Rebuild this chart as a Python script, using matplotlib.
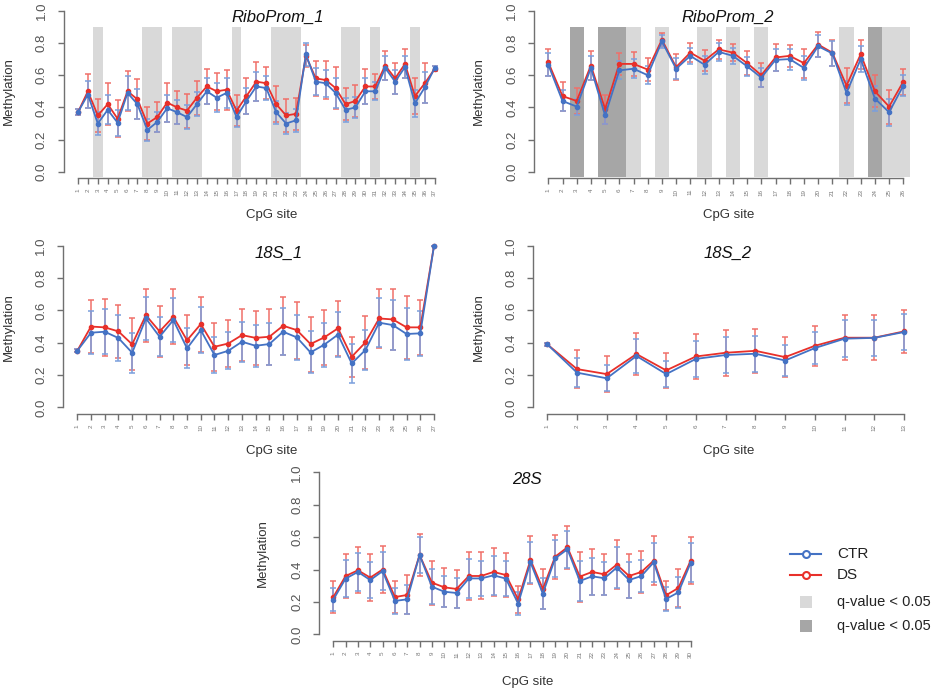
import matplotlib.pyplot as plt
from matplotlib.lines import Line2D

plt.rcParams['font.family'] = ['Liberation Sans', 'DejaVu Sans']

W, H = 941, 690

# ---- data: mean methylation and SD per CpG site ----
ribo1_ctr = [0.37, 0.48, 0.30, 0.385, 0.305, 0.49, 0.42, 0.26, 0.31, 0.395, 0.37, 0.34, 0.42,
             0.50, 0.46, 0.49, 0.34, 0.44, 0.53, 0.52, 0.37, 0.30, 0.32, 0.73, 0.56, 0.55,
             0.49, 0.385, 0.40, 0.50, 0.50, 0.645, 0.56, 0.65, 0.425, 0.525, 0.645]
ribo1_ctr_sd = [0.02, 0.085, 0.07, 0.09, 0.08, 0.105, 0.095, 0.07, 0.06, 0.085, 0.075, 0.075,
                0.075, 0.08, 0.09, 0.095, 0.06, 0.08, 0.09, 0.075, 0.07, 0.065, 0.07, 0.07,
                0.085, 0.085, 0.095, 0.075, 0.065, 0.08, 0.055, 0.075, 0.075, 0.07, 0.085,
                0.095, 0.015]
ribo1_ds = [0.37, 0.50, 0.35, 0.42, 0.33, 0.50, 0.45, 0.30, 0.34, 0.43, 0.40, 0.38, 0.46,
            0.53, 0.50, 0.51, 0.38, 0.47, 0.56, 0.55, 0.42, 0.35, 0.36, 0.72, 0.58, 0.57,
            0.52, 0.42, 0.44, 0.53, 0.53, 0.66, 0.58, 0.67, 0.47, 0.55, 0.64]
ribo1_ds_sd = [0.02, 0.105, 0.105, 0.13, 0.115, 0.125, 0.125, 0.10, 0.095, 0.12, 0.10, 0.105,
               0.105, 0.11, 0.115, 0.125, 0.095, 0.11, 0.12, 0.10, 0.11, 0.10, 0.10, 0.07,
               0.11, 0.115, 0.13, 0.10, 0.10, 0.11, 0.08, 0.09, 0.095, 0.09, 0.11, 0.125, 0.015]
ribo1_light = [3, 8, 9, 11, 12, 13, 17, 21, 22, 23, 28, 29, 31, 35]
ribo1_dark = []

ribo2_ctr = [0.665, 0.44, 0.405, 0.645, 0.35, 0.63, 0.64, 0.60, 0.81, 0.64, 0.72, 0.665, 0.745,
             0.72, 0.655, 0.585, 0.695, 0.70, 0.645, 0.78, 0.735, 0.49, 0.70, 0.455, 0.37, 0.535]
ribo2_ctr_sd = [0.07, 0.065, 0.05, 0.075, 0.05, 0.055, 0.06, 0.055, 0.04, 0.065, 0.05, 0.055,
                0.055, 0.05, 0.06, 0.06, 0.07, 0.065, 0.075, 0.07, 0.075, 0.075, 0.08, 0.08,
                0.085, 0.065]
ribo2_ds = [0.68, 0.47, 0.44, 0.66, 0.39, 0.67, 0.67, 0.635, 0.82, 0.65, 0.74, 0.69, 0.76,
            0.74, 0.675, 0.60, 0.71, 0.72, 0.675, 0.79, 0.74, 0.535, 0.73, 0.50, 0.405, 0.56]
ribo2_ds_sd = [0.085, 0.09, 0.08, 0.09, 0.09, 0.07, 0.075, 0.07, 0.04, 0.08, 0.06, 0.065, 0.06,
               0.055, 0.075, 0.075, 0.085, 0.07, 0.09, 0.075, 0.08, 0.11, 0.09, 0.10, 0.105, 0.08]
ribo2_light = [7, 9, 12, 14, 16, 22, 25, 26]
ribo2_dark = [3, 5, 6, 24]

s18_1_ctr = [0.35, 0.462, 0.468, 0.429, 0.338, 0.55, 0.437, 0.54, 0.365, 0.478, 0.324, 0.35,
             0.406, 0.381, 0.392, 0.468, 0.433, 0.34, 0.388, 0.45, 0.272, 0.355, 0.524, 0.509,
             0.454, 0.458, 1.0]
s18_1_ctr_sd = [0.01, 0.134, 0.14, 0.14, 0.124, 0.135, 0.12, 0.138, 0.124, 0.14, 0.113, 0.114,
                0.124, 0.128, 0.132, 0.144, 0.138, 0.13, 0.136, 0.14, 0.12, 0.123, 0.15, 0.155,
                0.158, 0.14, 0.0]
s18_1_ds = [0.35, 0.50, 0.495, 0.47, 0.39, 0.57, 0.47, 0.56, 0.415, 0.515, 0.375, 0.395, 0.447,
            0.43, 0.437, 0.505, 0.478, 0.392, 0.433, 0.489, 0.313, 0.402, 0.55, 0.544, 0.495,
            0.495, 1.0]
s18_1_ds_sd = [0.01, 0.165, 0.175, 0.165, 0.16, 0.165, 0.16, 0.17, 0.155, 0.17, 0.15, 0.148,
               0.16, 0.165, 0.172, 0.18, 0.176, 0.17, 0.172, 0.172, 0.124, 0.162, 0.185, 0.188,
               0.193, 0.172, 0.0]

s18_2_ctr = [0.39, 0.215, 0.18, 0.318, 0.206, 0.30, 0.324, 0.332, 0.29, 0.367, 0.425, 0.43, 0.466]
s18_2_ctr_sd = [0.01, 0.088, 0.08, 0.105, 0.08, 0.11, 0.112, 0.11, 0.095, 0.10, 0.115, 0.11, 0.11]
s18_2_ds = [0.39, 0.237, 0.206, 0.33, 0.229, 0.315, 0.338, 0.35, 0.311, 0.381, 0.431, 0.431, 0.47]
s18_2_ds_sd = [0.01, 0.118, 0.11, 0.13, 0.11, 0.14, 0.142, 0.135, 0.125, 0.125, 0.14, 0.14, 0.135]

s28_ctr = [0.214, 0.344, 0.385, 0.335, 0.39, 0.206, 0.216, 0.49, 0.294, 0.263, 0.255, 0.345,
           0.345, 0.364, 0.344, 0.19, 0.444, 0.251, 0.469, 0.525, 0.329, 0.358, 0.346, 0.412,
           0.335, 0.36, 0.444, 0.218, 0.259, 0.442]
s28_ctr_sd = [0.07, 0.115, 0.115, 0.112, 0.118, 0.078, 0.088, 0.112, 0.107, 0.097, 0.09, 0.12,
              0.11, 0.122, 0.107, 0.072, 0.126, 0.095, 0.115, 0.113, 0.123, 0.113, 0.102, 0.126,
              0.112, 0.10, 0.122, 0.072, 0.095, 0.12]
s28_ds = [0.23, 0.36, 0.395, 0.35, 0.40, 0.23, 0.243, 0.49, 0.319, 0.29, 0.28, 0.36, 0.36,
          0.385, 0.366, 0.216, 0.459, 0.28, 0.479, 0.537, 0.356, 0.385, 0.37, 0.43, 0.36, 0.385,
          0.455, 0.241, 0.286, 0.455]
s28_ds_sd = [0.10, 0.138, 0.142, 0.143, 0.145, 0.10, 0.12, 0.13, 0.136, 0.12, 0.115, 0.15,
             0.145, 0.15, 0.137, 0.085, 0.148, 0.125, 0.135, 0.133, 0.155, 0.142, 0.127, 0.152,
             0.137, 0.13, 0.153, 0.09, 0.12, 0.144]

BLUE = '#4472C4'
RED = '#E8302A'
BLUE_ERR = '#7A9FDD'
RED_ERR = '#F0706A'
LIGHT = '#D9D9D9'
DARK = '#A6A6A6'
AXC = '#707070'

fig = plt.figure(figsize=(W / 100, H / 100), dpi=100)


def panel(l, r, t, b, ctr, ctr_sd, ds, ds_sd, light=(), dark=()):
    ax = fig.add_axes([l / W, 1 - b / H, (r - l) / W, (b - t) / H])
    n = len(ctr)
    x = list(range(1, n + 1))
    ext = 0.04 * (n - 1)
    ax.set_xlim(1 - ext, n + ext)
    ax.set_ylim(-0.04, 1.04)
    if light:
        ax.bar(light, 0.93, bottom=-0.03, width=1.0, color=LIGHT, linewidth=0, zorder=0)
    if dark:
        ax.bar(dark, 0.93, bottom=-0.03, width=1.0, color=DARK, linewidth=0, zorder=0)
    ax.errorbar(x, ds, yerr=ds_sd, fmt='none', ecolor=RED_ERR,
                elinewidth=1.1, capsize=2.5, capthick=1.1, zorder=2)
    ax.errorbar(x, ctr, yerr=ctr_sd, fmt='none', ecolor=BLUE_ERR,
                elinewidth=1.1, capsize=2.5, capthick=1.1, zorder=3)
    ax.plot(x, ds, '-o', color=RED, lw=1.3, ms=3, zorder=4)
    ax.plot(x, ctr, '-o', color=BLUE, lw=1.3, ms=3, zorder=5)
    for s in ['top', 'right']:
        ax.spines[s].set_visible(False)
    ax.spines['left'].set_bounds(0, 1)
    ax.spines['bottom'].set_bounds(1, n)
    for s in ['left', 'bottom']:
        ax.spines[s].set_color(AXC)
        ax.spines[s].set_linewidth(1.0)
    ax.set_yticks([0, 0.2, 0.4, 0.6, 0.8, 1.0])
    ax.set_yticklabels(['0.0', '0.2', '0.4', '0.6', '0.8', '1.0'])
    ax.set_xticks(x)
    ax.set_xticklabels([str(i) for i in x])
    ax.tick_params(axis='y', length=4.5, width=1, color=AXC, labelsize=9.5,
                   labelcolor='#555555', pad=7, labelrotation=90)
    for lab in ax.get_yticklabels():
        lab.set_va('center')
    ax.tick_params(axis='x', length=4.5, width=1, color=AXC, labelsize=4.5,
                   labelcolor='#777777', pad=3, labelrotation=90)
    ax.patch.set_alpha(0)
    return ax


panel(63.7, 449, 4.3, 178.3, ribo1_ctr, ribo1_ctr_sd, ribo1_ds, ribo1_ds_sd, ribo1_light, ribo1_dark)
panel(534.1, 917.5, 4.3, 178.3, ribo2_ctr, ribo2_ctr_sd, ribo2_ds, ribo2_ds_sd, ribo2_light, ribo2_dark)
panel(63, 448.3, 239.2, 413.9, s18_1_ctr, s18_1_ctr_sd, s18_1_ds, s18_1_ds_sd)
panel(533, 918.3, 239.2, 413.9, s18_2_ctr, s18_2_ctr_sd, s18_2_ds, s18_2_ds_sd)
panel(319, 705, 465.8, 640.8, s28_ctr, s28_ctr_sd, s28_ds, s28_ds_sd)

# ---- overlay for titles, axis labels and legend (pixel coordinates) ----
ov = fig.add_axes([0, 0, 1, 1])
ov.set_xlim(0, W)
ov.set_ylim(H, 0)
ov.axis('off')
ov.patch.set_alpha(0)

titles = ['RiboProm_1', 'RiboProm_2', '18S_1', '18S_2', '28S']
title_xy = [(278, 17), (728, 17), (279, 253), (728, 253), (527, 479)]
for t, (tx, ty) in zip(titles, title_xy):
    ov.text(tx, ty, t, style='italic', fontsize=12, ha='center', va='center', color='#111111')

for cx, cy in [(272, 215), (729, 215), (272, 451), (729, 451), (528, 682)]:
    ov.text(cx, cy, 'CpG site', fontsize=9.5, ha='center', va='center', color='#333333')

for mx, my in [(8.7, 91), (478.5, 91), (8.5, 327), (478.5, 327), (263, 553)]:
    ov.text(mx, my, 'Methylation', fontsize=9.5, rotation=90, ha='center', va='center',
            color='#333333')

# legend
for yy, c, lab in [(554, BLUE, 'CTR'), (575, RED, 'DS')]:
    ov.add_line(Line2D([790, 821], [yy, yy], color=c, lw=1.5))
    ov.plot([806], [yy], 'o', ms=5, mfc='white', mec=c, mew=1.5)
    ov.text(837, yy, lab, fontsize=11, va='center', ha='left', color='#222222')
for yy, c in [(602, LIGHT), (626, DARK)]:
    ov.plot([806.5], [yy], 's', ms=8.5, color=c, mew=0)
    ov.text(837, yy, 'q-value < 0.05', fontsize=10.5, va='center', ha='left', color='#222222')

fig.savefig('out.png', dpi=100)
